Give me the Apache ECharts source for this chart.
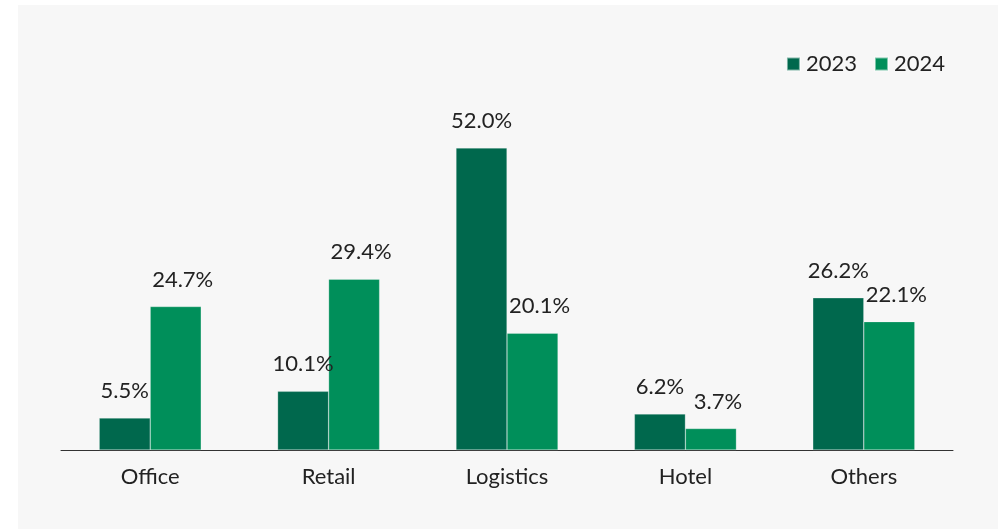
<!DOCTYPE html>
<html><head><meta charset="utf-8">
<script src="https://cdn.jsdelivr.net/npm/echarts@6/dist/echarts.min.js"></script>
<style>html,body{margin:0;padding:0;background:#fff;}#wrap{position:absolute;left:18px;top:5px;width:980px;height:524px;background:#f7f7f7;}#c{width:980px;height:524px;}</style>
</head><body><div id="wrap"><div id="c"></div></div>
<script>
const categories = ['Office', 'Retail', 'Logistics', 'Hotel', 'Others'];
const values2023 = [5.5, 10.1, 52.0, 6.2, 26.2];
const values2024 = [24.7, 29.4, 20.1, 3.7, 22.1];
const seriesNames = ['2023', '2024'];

const chart = echarts.init(document.getElementById('c'), null, {renderer: 'canvas'});
const FONT = 'Lato';
const labelStyle = {
  show: true, position: 'top', distance: 16,
  formatter: p => p.value.toFixed(1) + '%',
  fontFamily: FONT, fontSize: 22, color: '#222'
};
chart.setOption({
  backgroundColor: '#f7f7f7',
  animation: false,
  legend: {
    data: seriesNames, right: 48, top: 43, itemWidth: 13, itemHeight: 13, itemGap: 17,
    icon: 'rect',
    textStyle: {fontFamily: FONT, fontSize: 22, color: '#222', padding: [0,0,0,1]}
  },
  grid: {left: 43, right: 45, top: 96.5, bottom: 79},
  xAxis: {
    type: 'category', data: categories,
    axisLine: {lineStyle: {color: '#333', width: 1}},
    axisTick: {show: false},
    axisLabel: {fontFamily: FONT, fontSize: 22, color: '#222', margin: 16}
  },
  yAxis: {type: 'value', min: 0, max: 60, show: false, splitLine: {show: false}},
  series: [
    {name: seriesNames[0], type: 'bar', data: values2023, barWidth: 51, barGap: '0%',
     itemStyle: {color: '#00684d', borderColor: 'rgba(255,255,255,0.5)', borderWidth: 0.5},
     label: labelStyle},
    {name: seriesNames[1], type: 'bar', data: values2024, barWidth: 51,
     itemStyle: {color: '#008f5a', borderColor: 'rgba(255,255,255,0.5)', borderWidth: 0.5},
     label: Object.assign({}, labelStyle, {offset: [7, 0]})}
  ]
});
</script></body></html>
